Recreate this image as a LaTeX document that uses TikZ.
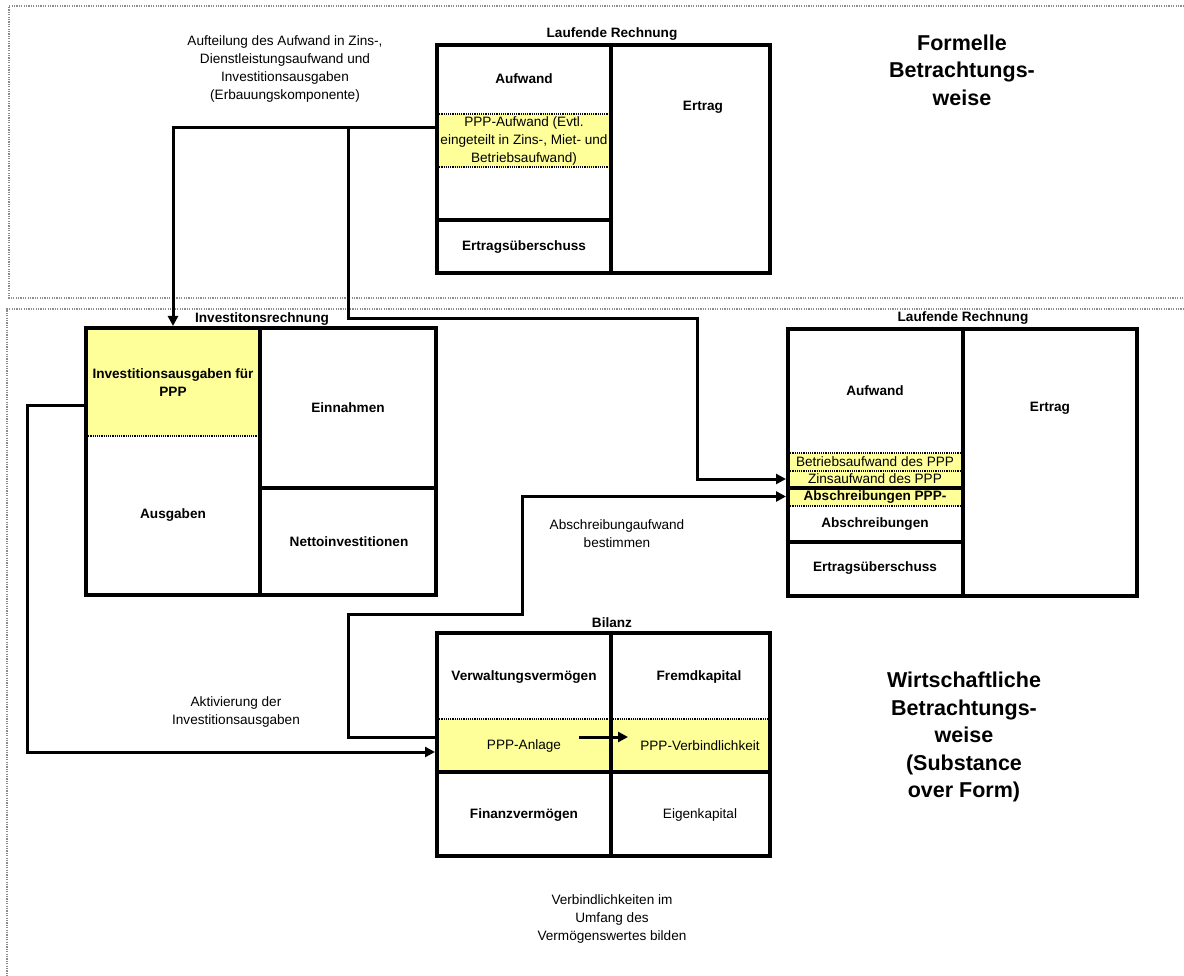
\documentclass[tikz,border=0pt]{standalone}
\usepackage{fontspec}
\setmainfont{Liberation Sans}
\usetikzlibrary{arrows.meta,fit}
\definecolor{pppyellow}{RGB}{255,255,153}
\definecolor{zonegray}{RGB}{140,140,140}

\begin{document}
\begin{tikzpicture}[x=1pt,y=-1pt,
  txt/.style={inner sep=0pt, align=center, font=\fontsize{13.6}{18}\selectfont},
  btxt/.style={inner sep=0pt, align=center, font=\fontsize{13.6}{18}\selectfont\bfseries},
  bigtxt/.style={inner sep=0pt, align=center, font=\fontsize{21.5}{27.5}\selectfont\bfseries},
  boxline/.style={line width=4pt},
  dotline/.style={line width=1.6pt, dash pattern=on 1.2pt off 1pt},
  zone/.style={draw=zonegray, line width=1.2pt, dash pattern=on 1.2pt off 1.2pt},
  cell/.style={inner sep=0pt, outer sep=0pt},
  hl/.style={cell, fill=pppyellow},
  tablebox/.style={cell, draw, line width=4pt},
  link/.style={line width=3pt},
  arr/.style={link, -{Triangle[length=10pt,width=10pt]}},
]
\useasboundingbox (0,0) rectangle (1184,976);

% dotted zones
\draw[zone] (1184,6) -- (9,6) -- (9,298) -- (1184,298);
\draw[zone] (1184,309) -- (7,309) -- (7,976);

% ---------- Laufende Rechnung (formal) ----------
\node[hl, fit={(437,114) (611,167)}] (tppp) {};
\draw[dotline] (tppp.north west) -- (tppp.north east);
\draw[dotline] (tppp.south west) -- (tppp.south east);
\node[tablebox, fit={(437,45) (770,273)}] (tbox) {};
\draw[boxline] (611,45) -- (611,273);
\draw[boxline] (437,220) -- (611,220);
\node[btxt] (tcap) at (612,34) {Laufende Rechnung};
\node[btxt] (taufw) at (524,79) {Aufwand};
\node[txt] (tppptxt) at (524,141) {PPP-Aufwand (Evtl.\\eingeteilt in Zins-, Miet- und\\Betriebsaufwand)};
\node[btxt] (tertr) at (703,107) {Ertrag};
\node[btxt] (tueb) at (524,247) {Ertragsüberschuss};

% ---------- Investitonsrechnung ----------
\node[hl, fit={(86,328) (260,436)}] (lppp) {};
\draw[dotline] (lppp.south west) -- (lppp.south east);
\node[tablebox, fit={(86,328) (436,595)}] (lbox) {};
\draw[boxline] (260,328) -- (260,595);
\draw[boxline] (260,488) -- (436,488);
\node[btxt] (lcap) at (262,319) {Investitonsrechnung};
\node[btxt] (lppptxt) at (173,383) {Investitionsausgaben für\\PPP};
\node[btxt] (lein) at (348,408) {Einnahmen};
\node[btxt] (laus) at (173,515) {Ausgaben};
\node[btxt] (lnet) at (349,542) {Nettoinvestitionen};

% ---------- Laufende Rechnung (economic) ----------
\node[hl, fit={(788,453) (963,471)}] (rbetr) {};
\node[hl, fit={(788,471) (963,487)}] (rzins) {};
\node[hl, fit={(788,487) (963,506)}] (rabs) {};
\draw[dotline] (rbetr.north west) -- (rbetr.north east);
\draw[dotline] (rbetr.south west) -- (rbetr.south east);
\draw[dotline] (rabs.south west) -- (rabs.south east);
\draw[boxline] (788,488) -- (963,488);
\node[tablebox, fit={(788,329) (1137,596)}] (rbox) {};
\draw[boxline] (963,329) -- (963,596);
\draw[boxline] (788,542) -- (963,542);
\node[btxt] (rcap) at (963,318) {Laufende Rechnung};
\node[btxt] (raufw) at (875,391) {Aufwand};
\node[btxt] (rertr) at (1050,408) {Ertrag};
\node[txt] (rbetrtxt) at (875,462) {Betriebsaufwand des PPP};
\node[txt] (rzinstxt) at (875,479) {Zinsaufwand des PPP};
\node[btxt] (rabstxt) at (875,497) {Abschreibungen PPP-};
\node[btxt] (rabschr) at (875,524) {Abschreibungen};
\node[btxt] (rueb) at (875,568) {Ertragsüberschuss};

% ---------- Bilanz ----------
\node[hl, fit={(437,719) (770,772)}] (bppp) {};
\draw[dotline] (bppp.north west) -- (bppp.north east);
\node[tablebox, fit={(437,633) (770,856)}] (bbox) {};
\draw[boxline] (611,633) -- (611,856);
\draw[boxline] (437,772) -- (770,772);
\node[btxt] (bcap) at (612,623) {Bilanz};
\node[btxt] (bvv) at (524,677) {Verwaltungsvermögen};
\node[btxt] (bfk) at (699,677) {Fremdkapital};
\node[txt] (banl) at (524,746) {PPP-Anlage};
\node[txt] (bverb) at (700,746) {PPP-Verbindlichkeit};
\node[btxt] (bfv) at (524,815) {Finanzvermögen};
\node[txt] (bek) at (700,815) {Eigenkapital};

% ---------- connectors ----------
\coordinate (c1) at (437,128);
\coordinate (c2) at (348,128);
\coordinate (c3) at (84,405);
\coordinate (c3e) at (435,752);
\coordinate (c4) at (435,737);
\coordinate (c5s) at (579,737);
\coordinate (c5e) at (628,737);

\draw[arr, shorten >=2pt] (c1) -| (lppp.north);
\draw[arr, shorten >=2pt] (c2) -- (348,319) -- (697,319) |- (rzins.west);
\draw[arr] (c3) -- (27,405) |- (c3e);
\draw[arr, shorten >=2pt] (c4) -- (348,737) -- (348,614) -- (522,614) |- (rabs.west);
\draw[arr] (c5s) -- (c5e);

% ---------- annotations ----------
\node[txt] (split) at (285,69) {Aufteilung des Aufwand in Zins-,\\Dienstleistungsaufwand und\\Investitionsausgaben\\(Erbauungskomponente)};
\node[txt] (deprec) at (617,534) {Abschreibungaufwand\\bestimmen};
\node[txt] (activ) at (236,712) {Aktivierung der\\Investitionsausgaben};
\node[txt] (liab) at (612,919) {Verbindlichkeiten im\\Umfang des\\Vermögenswertes bilden};
\node[bigtxt] (formal) at (962,70) {Formelle\\Betrachtungs-\\weise};
\node[bigtxt] (econ) at (964,737) {Wirtschaftliche\\Betrachtungs-\\weise\\(Substance\\over Form)};
\end{tikzpicture}
\end{document}
